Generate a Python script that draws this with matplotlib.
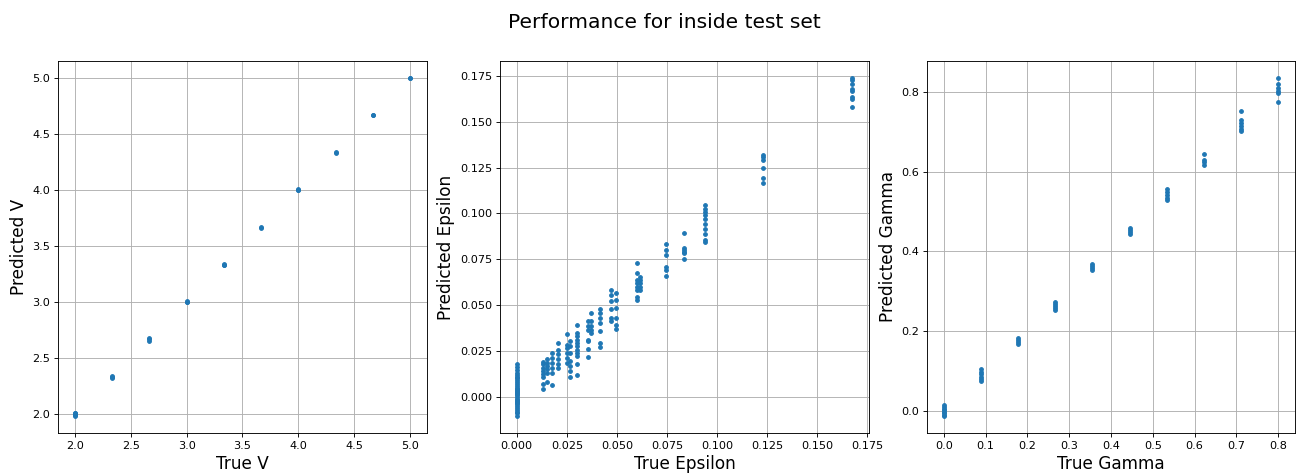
import numpy as np
import matplotlib
matplotlib.use("Agg")
import matplotlib.pyplot as plt

# ---- Data ----
v_levels = [2.0, 2.3333, 2.6667, 3.0, 3.3333, 3.6667, 4.0, 4.3333, 4.6667, 5.0]
v_pred_groups = [
    [1.98, 1.99, 2.0, 2.005, 2.01],
    [2.32, 2.33, 2.34],
    [2.655, 2.665, 2.675],
    [2.995, 3.0, 3.005],
    [3.325, 3.333, 3.34],
    [3.66, 3.67],
    [3.995, 4.0, 4.005],
    [4.33, 4.335],
    [4.665, 4.67],
    [4.998, 5.0],
]

eps_levels = [0.0, 0.0133, 0.0152, 0.0177, 0.0208, 0.025, 0.0267, 0.0303,
              0.0355, 0.0372, 0.0418, 0.0472, 0.0497, 0.0602, 0.0613,
              0.0743, 0.0837, 0.094, 0.123, 0.1675]
eps_pred_groups = [
    [0.0178, 0.016, 0.0145, 0.013, 0.012, 0.011, 0.010, 0.009, 0.008, 0.007,
     0.006, 0.005, 0.004, 0.003, 0.002, 0.001, 0.0, -0.001, -0.002, -0.003,
     -0.004, -0.005, -0.006, -0.007, -0.008, -0.009, -0.0105, 0.0015,
     -0.0015, 0.0025, -0.0025, 0.0035, -0.0035],
    [0.019, 0.0177, 0.0159, 0.0141, 0.0123, 0.011, 0.0069, 0.0045],
    [0.0204, 0.0186, 0.0168, 0.015, 0.0132, 0.0081],
    [0.024, 0.0213, 0.0186, 0.0159, 0.0132, 0.0065],
    [0.0294, 0.0258, 0.0231, 0.0204, 0.0177, 0.0159],
    [0.034, 0.0285, 0.0267, 0.024, 0.0213, 0.0186],
    [0.0307, 0.0276, 0.024, 0.0195, 0.0168, 0.0141, 0.0108],
    [0.0392, 0.0349, 0.0331, 0.0312, 0.0294, 0.0276, 0.0258, 0.024, 0.0222,
     0.0177, 0.0121],
    [0.0412, 0.0385, 0.0367, 0.0312, 0.0303, 0.0262, 0.0217],
    [0.0457, 0.0412, 0.0385, 0.0367, 0.0349],
    [0.048, 0.0457, 0.043, 0.0403, 0.0358, 0.0294, 0.0271],
    [0.0583, 0.0556, 0.052, 0.0479, 0.043, 0.0412],
    [0.0565, 0.0529, 0.0484, 0.043, 0.0394, 0.037],
    [0.0728, 0.0674, 0.0638, 0.062, 0.0601, 0.0583, 0.0547, 0.0529],
    [0.0656, 0.0638, 0.062, 0.0601, 0.0583],
    [0.0836, 0.08, 0.0773, 0.071, 0.0692, 0.0659],
    [0.0896, 0.0809, 0.08, 0.0791, 0.0782, 0.0751],
    [0.1044, 0.1026, 0.1008, 0.099, 0.0972, 0.0945, 0.0917, 0.0887, 0.0854,
     0.0845],
    [0.132, 0.1306, 0.1291, 0.1246, 0.1194, 0.1165],
    [0.1739, 0.1725, 0.1707, 0.1676, 0.1667, 0.1634, 0.1622, 0.158],
]

gam_levels = [0.0, 0.0889, 0.1778, 0.2667, 0.3556, 0.4444, 0.5333, 0.6222,
              0.7111, 0.8]
gam_pred_groups = [
    [0.014, 0.01, 0.006, 0.002, -0.002, -0.006, -0.01, -0.013],
    [0.104, 0.098, 0.092, 0.086, 0.081, 0.076],
    [0.183, 0.178, 0.173, 0.167],
    [0.274, 0.268, 0.262, 0.257, 0.252],
    [0.368, 0.363, 0.358, 0.354],
    [0.458, 0.453, 0.448, 0.443],
    [0.557, 0.548, 0.541, 0.535, 0.529],
    [0.645, 0.629, 0.623, 0.617],
    [0.752, 0.73, 0.722, 0.715, 0.708, 0.701],
    [0.835, 0.82, 0.81, 0.803, 0.797, 0.775],
]

x_labels = ["True V", "True Epsilon", "True Gamma"]
y_labels = ["Predicted V", "Predicted Epsilon", "Predicted Gamma"]
title = "Performance for inside test set"


def expand(levels, groups):
    xs, ys = [], []
    for lv, g in zip(levels, groups):
        xs.extend([lv] * len(g))
        ys.extend(g)
    return np.array(xs), np.array(ys)


panels = [expand(v_levels, v_pred_groups),
          expand(eps_levels, eps_pred_groups),
          expand(gam_levels, gam_pred_groups)]

DPI = 81
W, H = 1297, 474
fig = plt.figure(figsize=(W / DPI, H / DPI), dpi=DPI)
lefts = [58, 500, 927]
widths = [369, 369, 368]
top, bottom = 61, 433

for i, (xs, ys) in enumerate(panels):
    ax = fig.add_axes([lefts[i] / W, (H - bottom) / H, widths[i] / W,
                       (bottom - top) / H])
    ax.plot(xs, ys, '.', color='#1f77b4', markersize=6.5, linestyle='none')
    ax.grid(True)
    ax.set_xlabel(x_labels[i], fontsize=15)
    ax.set_ylabel(y_labels[i], fontsize=15)
    ax.tick_params(labelsize=10)

fig.text(664 / W, 1 - 22 / H, title, ha='center', va='center', fontsize=18)
fig.savefig("out.png", dpi=DPI)
